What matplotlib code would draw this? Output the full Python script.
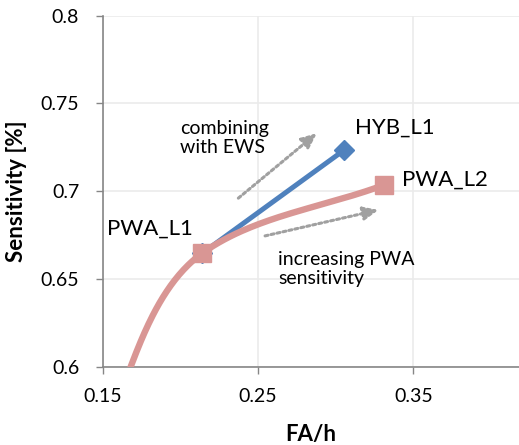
import numpy as np
import matplotlib.pyplot as plt

plt.rcParams['font.family'] = ['Lato', 'DejaVu Sans']

# data
pwa_fa = [0.165, 0.168, 0.214, 0.331]
pwa_sens = [0.550, 0.600, 0.6646, 0.7035]
hyb_fa = [0.214, 0.3056]
hyb_sens = [0.6646, 0.7235]

x_ticks = [0.15, 0.25, 0.35]
y_ticks = [0.6, 0.65, 0.7, 0.75, 0.8]

pink = '#D99694'
blue = '#4F81BD'


def smooth(xs, ys, tens=0.33, n=60):
    # smoothed line: tangent direction from neighbours, length from segment
    sx, sy = 1553.0, 1755.0
    p = np.column_stack([np.array(xs) * sx, np.array(ys) * sy])
    m = len(p)
    d = []
    for i in range(m):
        a = p[max(i - 1, 0)]
        b = p[min(i + 1, m - 1)]
        v = b - a
        d.append(v / np.hypot(*v))
    out = []
    for i in range(m - 1):
        p1, p2 = p[i], p[i + 1]
        L = np.hypot(*(p2 - p1))
        c1 = p1 + d[i] * L * tens
        c2 = p2 - d[i + 1] * L * tens
        t = np.linspace(0, 1, n)[:, None]
        seg = (1 - t) ** 3 * p1 + 3 * (1 - t) ** 2 * t * c1 + 3 * (1 - t) * t ** 2 * c2 + t ** 3 * p2
        out.append(seg)
    out = np.vstack(out)
    return out[:, 0] / sx, out[:, 1] / sy


fig = plt.figure(figsize=(5.19, 4.45), dpi=100)
ax = fig.add_axes([0.198, 0.176, 0.802, 0.789])

ax.plot(hyb_fa, hyb_sens, color=blue, lw=3.6, zorder=3)
ax.plot(hyb_fa, hyb_sens, 'D', color=blue, ms=9.7, zorder=3)
cx, cy = smooth(pwa_fa, pwa_sens)
ax.plot(cx, cy, color=pink, lw=4.6, zorder=4, solid_capstyle='butt')
ax.plot(pwa_fa[2:], pwa_sens[2:], 's', color=pink, ms=12.5, zorder=5)

ax.set_xlim(0.15, 0.418)
ax.set_ylim(0.6, 0.8)
ax.set_xticks(x_ticks)
ax.set_yticks(y_ticks)
ax.set_xticklabels(['0.15', '0.25', '0.35'])
ax.set_yticklabels(['0.6', '0.65', '0.7', '0.75', '0.8'])
ax.tick_params(labelsize=14, color='#868686', length=5, width=1)
ax.tick_params(axis='y', pad=12)
ax.tick_params(axis='x', pad=10)
ax.grid(color='#EBEBEB', lw=1.2)
ax.set_axisbelow(True)
for s in ['top', 'right']:
    ax.spines[s].set_visible(False)
for s in ['left', 'bottom']:
    ax.spines[s].set_color('#868686')
    ax.spines[s].set_linewidth(1.2)

ax.set_xlabel('FA/h', fontsize=16, fontweight='bold', labelpad=14)
ax.set_ylabel('Sensitivity [%]', fontsize=16, fontweight='bold', labelpad=10)

ax.text(0.1528, 0.6785, 'PWA_L1', fontsize=16, va='center', ha='left')
ax.text(0.3125, 0.7363, 'HYB_L1', fontsize=16, va='center', ha='left')
ax.text(0.3425, 0.7067, 'PWA_L2', fontsize=16, va='center', ha='left')
ax.text(0.1998, 0.7303, 'combining\nwith EWS', fontsize=14, va='center', ha='left', linespacing=1.15)
ax.text(0.2631, 0.6557, 'increasing PWA\nsensitivity', fontsize=14, va='center', ha='left', linespacing=1.15)

arrow = dict(arrowstyle='-|>,head_width=0.4,head_length=0.9', color='#A0A0A0', lw=2.2,
             linestyle=(0, (1, 1)), shrinkA=0, shrinkB=0)
ax.annotate('', xy=(0.2878, 0.733), xytext=(0.2373, 0.696), arrowprops=arrow)
ax.annotate('', xy=(0.3275, 0.6893), xytext=(0.2545, 0.6745), arrowprops=arrow)

plt.savefig('out.png', dpi=100)
